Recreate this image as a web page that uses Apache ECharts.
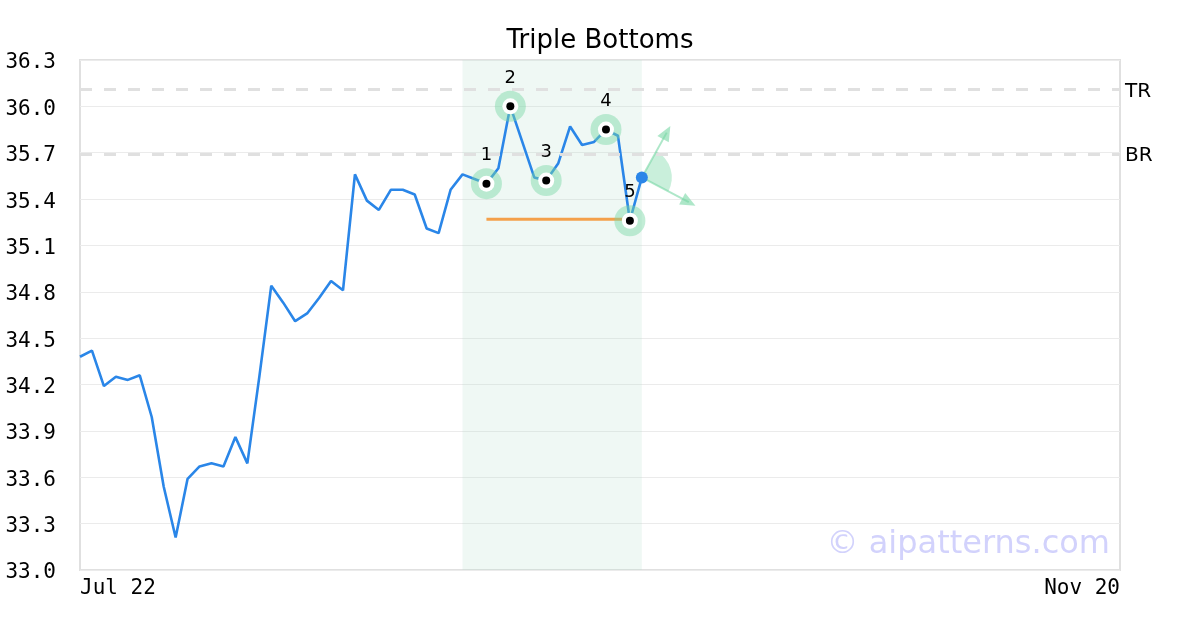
<!DOCTYPE html>
<html>
<head>
<meta charset="utf-8">
<script src="https://cdn.jsdelivr.net/npm/echarts@6/dist/echarts.min.js"></script>
<style>html,body{margin:0;padding:0;background:#fff}#c{width:1200px;height:630px}</style>
</head>
<body>
<div id="c"></div>
<script>
// ---- data ----
const xLabels = ['Jul 22', 'Nov 20'];
const xMax = 87;
const prices = [34.38, 34.42, 34.19, 34.25, 34.23, 34.26, 33.99, 33.54, 33.21, 33.59,
  33.67, 33.69, 33.67, 33.86, 33.69, 34.25, 34.84, 34.73, 34.61, 34.66,
  34.76, 34.87, 34.81, 35.56, 35.39, 35.33, 35.46, 35.46, 35.43, 35.21,
  35.18, 35.46, 35.56, 35.53, 35.50, 35.60, 36.00, 35.77, 35.54, 35.52,
  35.63, 35.87, 35.75, 35.77, 35.85, 35.81, 35.26, 35.54];
const pivotIdx = [34, 36, 39, 44, 46];
const pivotLabels = ['1', '2', '3', '4', '5'];
const zoneRange = [32, 47];
const supportLevel = 35.27;
const supportRange = [34, 46];
const trLevel = 36.11;
const brLevel = 35.69;
const arrowUp = [49.08, 35.83];
const arrowDown = [50.93, 35.38];
const yTicks = { min: 33.0, max: 36.3, step: 0.3 };

// ---- build ----
const lineData = prices.map((v, i) => [i, v]);
const pivots = pivotIdx.map((i, k) => ({ value: [i, prices[i]], label: pivotLabels[k] }));
const lastIdx = prices.length - 1;
const lastPt = [lastIdx, prices[lastIdx]];
const haloColor = 'rgba(120,215,165,0.45)';
const arrowColor = 'rgba(120,215,165,0.6)';

const chart = echarts.init(document.getElementById('c'), null, { renderer: 'canvas' });
const option = {
  animation: false,
  backgroundColor: '#fff',
  title: {
    text: 'Triple Bottoms', left: 'center', top: 23,
    textStyle: { fontFamily: 'DejaVu Sans', fontSize: 26, fontWeight: 'normal', color: '#000' }
  },
  grid: { left: 80, right: 80, top: 60, bottom: 60, show: true, borderColor: '#e0e0e0', borderWidth: 2, backgroundColor: 'transparent' },
  xAxis: {
    type: 'value', min: 0, max: xMax, interval: xMax,
    axisLine: { show: false }, axisTick: { show: false }, splitLine: { show: false },
    axisLabel: {
      formatter: v => (v === 0 ? xLabels[0] : xLabels[1]),
      alignMinLabel: 'left', alignMaxLabel: 'right', margin: 8,
      fontFamily: 'DejaVu Sans Mono', fontSize: 21, color: '#000'
    }
  },
  yAxis: {
    type: 'value', min: yTicks.min, max: yTicks.max, interval: yTicks.step,
    axisLine: { show: false }, axisTick: { show: false },
    splitLine: { lineStyle: { color: '#ebebeb', width: 1 } },
    axisLabel: {
      formatter: v => v.toFixed(1), margin: 24, verticalAlign: 'top', lineHeight: 6,
      fontFamily: 'DejaVu Sans Mono', fontSize: 21, color: '#000'
    }
  },
  series: [
    {
      name: 'zone', type: 'line', data: [], z: 1, silent: true,
      markArea: {
        silent: true,
        itemStyle: { color: 'rgba(175,222,200,0.2)' },
        data: [[{ xAxis: zoneRange[0] }, { xAxis: zoneRange[1] }]]
      },
      markLine: {
        silent: true, symbol: 'none',
        lineStyle: { color: '#e0e0e0', width: 3, type: [12, 12] },
        label: { position: 'end', distance: 5, verticalAlign: 'top', lineHeight: 4, fontFamily: 'DejaVu Sans', fontSize: 20, color: '#000', formatter: p => p.name },
        data: [{ yAxis: trLevel, name: 'TR' }, { yAxis: brLevel, name: 'BR' }]
      }
    },
    {
      name: 'support', type: 'line', z: 2, silent: true, symbol: 'none',
      lineStyle: { color: '#f4a04a', width: 3 },
      data: [[supportRange[0], supportLevel], [supportRange[1], supportLevel]]
    },
    {
      name: 'price', type: 'line', z: 3, data: lineData, symbol: 'none',
      lineStyle: { color: '#2a86e8', width: 2.6 }
    },
    {
      name: 'arrows', type: 'line', data: [], z: 4, silent: true,
      markLine: {
        silent: true, symbol: ['none', 'triangle'], symbolSize: [13, 15],
        lineStyle: { color: arrowColor, width: 2, type: 'solid' },
        label: { show: false },
        emphasis: { disabled: true },
        data: [
          [{ coord: lastPt }, { coord: arrowUp }],
          [{ coord: lastPt }, { coord: arrowDown }]
        ]
      }
    },
    {
      name: 'halo', type: 'scatter', z: 5, symbol: 'circle', symbolSize: 31, silent: true,
      itemStyle: { color: haloColor, opacity: 1 },
      label: {
        show: true, position: 'top', distance: 4, formatter: p => p.data.label,
        fontFamily: 'DejaVu Sans', fontSize: 18, color: '#000', opacity: 1
      },
      data: pivots
    },
    {
      name: 'ring', type: 'scatter', z: 6, symbol: 'circle', symbolSize: 16, silent: true,
      itemStyle: { color: '#fff', opacity: 1 }, data: pivots.map(p => p.value)
    },
    {
      name: 'dot', type: 'scatter', z: 7, symbol: 'circle', symbolSize: 8, silent: true,
      itemStyle: { color: '#000', opacity: 1 }, data: pivots.map(p => p.value)
    },
    {
      name: 'last', type: 'scatter', z: 8, symbol: 'circle', symbolSize: 12, silent: true,
      itemStyle: { color: '#2a86e8', opacity: 1 }, data: [lastPt]
    }
  ]
};
chart.setOption(option);

// sector between the two projection arrows, built from converted data points
const c = chart.convertToPixel({ gridIndex: 0 }, lastPt);
const a1 = chart.convertToPixel({ gridIndex: 0 }, arrowUp);
const a2 = chart.convertToPixel({ gridIndex: 0 }, arrowDown);
const ang1 = Math.atan2(a1[1] - c[1], a1[0] - c[0]);
const ang2 = Math.atan2(a2[1] - c[1], a2[0] - c[0]);
chart.setOption({
  graphic: [
    {
      type: 'sector', z: 3, silent: true,
      shape: { cx: c[0], cy: c[1], r0: 0, r: 30, startAngle: ang1, endAngle: ang2, clockwise: true },
      style: { fill: 'rgba(120,215,165,0.4)' }
    },
    {
      type: 'text', right: 90, bottom: 69, silent: true,
      style: { text: '© aipatterns.com', font: '32px "DejaVu Sans"', fill: '#d2d2fc' }
    }
  ]
});
</script>
</body>
</html>
